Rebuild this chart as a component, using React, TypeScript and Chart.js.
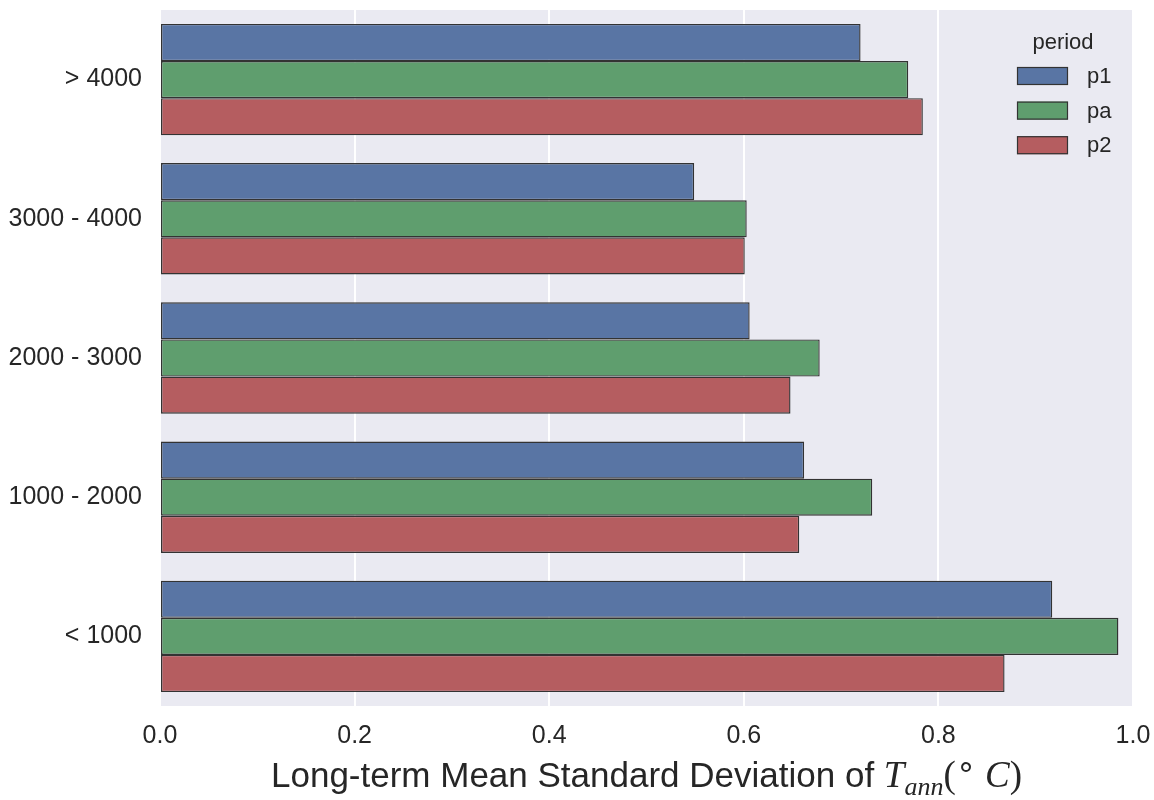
import React, { useEffect, useRef } from "react";
import { Chart, registerables } from "chart.js";

Chart.register(...registerables);

// Elevation bands (m), top to bottom
const elevationBands = ["> 4000", "3000 - 4000", "2000 - 3000", "1000 - 2000", "< 1000"];

// Long-term mean standard deviation of annual temperature per period
const p1Values = [0.72, 0.549, 0.606, 0.662, 0.917];
const paValues = [0.769, 0.603, 0.678, 0.732, 0.985];
const p2Values = [0.784, 0.601, 0.648, 0.657, 0.868];

const periodNames = ["p1", "pa", "p2"];
const periodColors = ["#5975a4", "#5f9e6e", "#b55d60"];

const xTicks = [0, 0.2, 0.4, 0.6, 0.8, 1.0];

const SANS = "'Liberation Sans', Arial, sans-serif";
const SERIF = "'Liberation Serif', 'Times New Roman', serif";
const TEXT = "#262626";
const EDGE = "#333333";

const backgroundPlugin = {
  id: "axesBackground",
  beforeDraw(chart: any) {
    const { ctx, chartArea } = chart;
    ctx.save();
    ctx.fillStyle = "#eaeaf2";
    ctx.fillRect(chartArea.left, chartArea.top, chartArea.right - chartArea.left, chartArea.bottom - chartArea.top);
    ctx.restore();
  },
};

const legendPlugin = {
  id: "periodLegend",
  afterDraw(chart: any) {
    const { ctx, chartArea } = chart;
    const boxLeft = chartArea.right - 116;
    ctx.save();
    ctx.fillStyle = TEXT;
    ctx.font = `22px ${SANS}`;
    ctx.textAlign = "center";
    ctx.textBaseline = "alphabetic";
    ctx.fillText("period", boxLeft + 46, 49);
    ctx.textAlign = "left";
    ctx.textBaseline = "middle";
    periodNames.forEach((name, i) => {
      const cy = 76 + i * 34.6;
      ctx.fillStyle = periodColors[i];
      ctx.fillRect(boxLeft, cy - 9, 51, 18);
      ctx.strokeStyle = EDGE;
      ctx.lineWidth = 1.2;
      ctx.strokeRect(boxLeft + 0.5, cy - 8.5, 50, 17);
      ctx.fillStyle = TEXT;
      ctx.fillText(name, boxLeft + 70, cy + 1);
    });
    ctx.restore();
  },
};

const axisTitlePlugin = {
  id: "axisTitle",
  afterDraw(chart: any) {
    const { ctx, chartArea } = chart;
    const baseline = 787;
    const parts = [
      { text: "Long-term Mean Standard Deviation of ", font: `35px ${SANS}`, dy: 0 },
      { text: "T", font: `italic 37px ${SERIF}`, dy: 0 },
      { text: "ann", font: `italic 26px ${SERIF}`, dy: 8 },
      { text: "(", font: `37px ${SERIF}`, dy: 0 },
      { text: "\u2218", font: `32px ${SERIF}`, dy: -11 },
      { text: " C", font: `italic 37px ${SERIF}`, dy: 0 },
      { text: ")", font: `37px ${SERIF}`, dy: 0 },
    ];
    ctx.save();
    ctx.fillStyle = TEXT;
    ctx.textAlign = "left";
    ctx.textBaseline = "alphabetic";
    let total = 0;
    const widths = parts.map((p) => {
      ctx.font = p.font;
      const w = ctx.measureText(p.text).width;
      total += w;
      return w;
    });
    let x = (chartArea.left + chartArea.right) / 2 - total / 2;
    parts.forEach((p, i) => {
      ctx.font = p.font;
      ctx.fillText(p.text, x, baseline + p.dy);
      x += widths[i];
    });
    ctx.restore();
  },
};

export default function App() {
  const canvasRef = useRef<HTMLCanvasElement | null>(null);

  useEffect(() => {
    if (!canvasRef.current) return;
    const seriesValues = [p1Values, paValues, p2Values];
    const chart = new Chart(canvasRef.current, {
      type: "bar",
      data: {
        labels: elevationBands,
        datasets: periodNames.map((name, i) => ({
          label: name,
          data: seriesValues[i],
          backgroundColor: periodColors[i],
          borderColor: EDGE,
          borderWidth: 1.4,
          borderSkipped: false,
          categoryPercentage: 0.8,
          barPercentage: 1.0,
        })),
      },
      options: {
        indexAxis: "y",
        animation: false,
        responsive: false,
        devicePixelRatio: 1,
        layout: { padding: { top: 10, right: 21, left: 0, bottom: 0 } },
        plugins: {
          legend: { display: false },
          tooltip: { enabled: false },
        },
        scales: {
          x: {
            type: "linear",
            min: 0,
            max: 1,
            afterBuildTicks: (scale: any) => {
              scale.ticks = xTicks.map((v) => ({ value: v }));
            },
            afterFit: (scale: any) => {
              scale.height = 94;
              scale.paddingLeft = 0;
              scale.paddingRight = 0;
            },
            grid: { color: "#ffffff", lineWidth: 2, drawTicks: false },
            border: { display: false },
            ticks: {
              padding: 15,
              color: TEXT,
              font: { family: SANS, size: 25 },
              callback: (v: any) => Number(v).toFixed(1),
            },
          },
          y: {
            afterFit: (scale: any) => {
              scale.width = 160;
              scale.paddingTop = 0;
              scale.paddingBottom = 0;
            },
            grid: { display: false, drawTicks: false },
            border: { display: false },
            ticks: {
              padding: 18,
              color: TEXT,
              font: { family: SANS, size: 25 },
            },
          },
        },
      },
      plugins: [backgroundPlugin, legendPlugin, axisTitlePlugin],
    } as any);
    return () => chart.destroy();
  }, []);

  return (
    <div style={{ position: "absolute", left: 0, top: 0, width: 1154, height: 800, background: "#ffffff" }}>
      <canvas ref={canvasRef} width={1154} height={800} style={{ display: "block" }} />
    </div>
  );
}
